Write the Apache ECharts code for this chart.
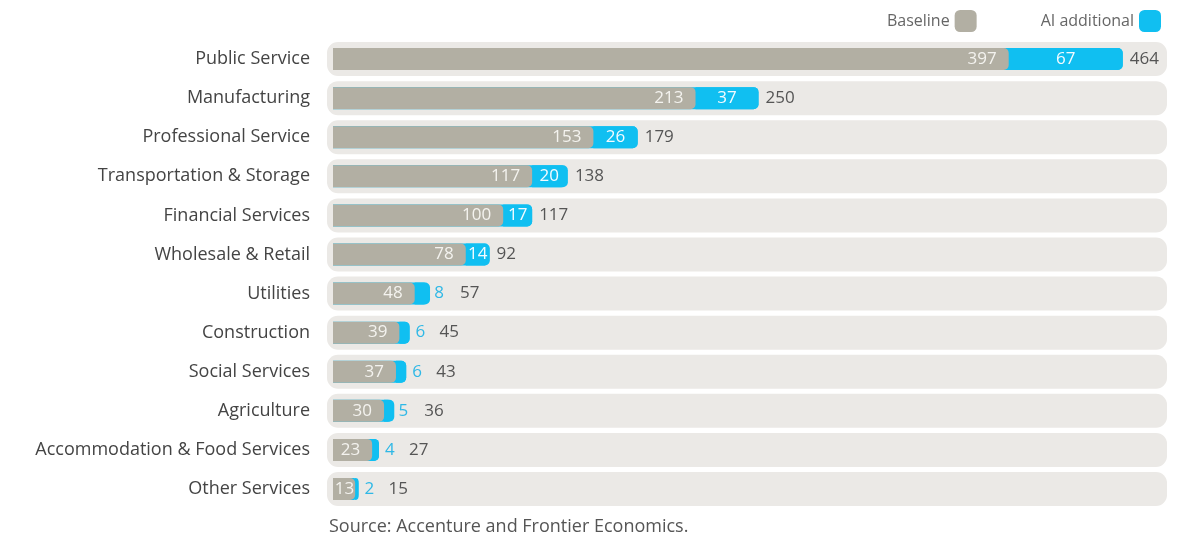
<!DOCTYPE html>
<html>
<head>
<meta charset="utf-8">
<script src="https://cdn.jsdelivr.net/npm/echarts@6/dist/echarts.min.js"></script>
<style>
  html, body { margin: 0; padding: 0; background: #fff; }
  #main { width: 1179px; height: 537px; }
</style>
</head>
<body>
<div id="main"></div>
<script>
  // data
  var categories = ['Public Service', 'Manufacturing', 'Professional Service', 'Transportation & Storage',
    'Financial Services', 'Wholesale & Retail', 'Utilities', 'Construction', 'Social Services',
    'Agriculture', 'Accommodation & Food Services', 'Other Services'];
  var baseline = [397, 213, 153, 117, 100, 78, 48, 39, 37, 30, 23, 13];
  var aiAdditional = [67, 37, 26, 20, 17, 14, 8, 6, 6, 5, 4, 2];
  var totals = [464, 250, 179, 138, 117, 92, 57, 45, 43, 36, 27, 15];

  var GRAY = '#b2afa3';
  var BLUE = '#10bff1';
  var FONT = 'Open Sans';

  var myChart = echarts.init(document.getElementById('main'));

  // small additions get their label outside the bar, in blue
  var aiData = aiAdditional.map(function (v) {
    if (v < 10) {
      return { value: v, label: { position: 'right', color: '#2fb8e6', distance: 6 } };
    }
    return v;
  });
  var baseData = baseline.map(function (v) {
    return { value: v, label: { distance: v < 20 ? 1 : 12 } };
  });
  var totalData = totals.map(function (v, i) {
    return { value: v, label: { distance: aiAdditional[i] < 10 ? 30 : 7 } };
  });

  var option = {
    animation: false,
    legend: {
      data: ['Baseline', 'AI additional'],
      right: 13,
      top: 5,
      align: 'right',
      itemWidth: 22,
      itemHeight: 22,
      itemGap: 64,
      icon: 'roundRect',
      textStyle: { color: '#666', fontSize: 16, fontFamily: FONT }
    },
    grid: [
      { left: 333, right: 12, top: 39.5, bottom: 28.5 },
      { left: 327, right: 12, top: 39.5, bottom: 28.5 }
    ],
    xAxis: [
      { type: 'value', gridIndex: 0, min: 0, max: 490, show: false },
      { type: 'value', gridIndex: 1, min: 0, max: 1, show: false }
    ],
    yAxis: [
      {
        type: 'category', gridIndex: 0, data: categories, inverse: true,
        axisLine: { show: false }, axisTick: { show: false },
        axisLabel: { color: '#444', fontSize: 18, fontFamily: FONT, margin: 23 }
      },
      {
        type: 'category', gridIndex: 1, data: categories, inverse: true, show: false
      }
    ],
    graphic: [{
      type: 'text', left: 329, top: 518,
      style: { text: 'Source: Accenture and Frontier Economics.', fill: '#555', fontSize: 18, fontFamily: FONT }
    }],
    series: [
      {
        name: 'track', type: 'bar', xAxisIndex: 1, yAxisIndex: 1,
        data: categories.map(function () { return 1; }),
        barWidth: 34, silent: true, z: 0,
        itemStyle: { color: '#ebe9e6', borderRadius: 11 }
      },
      {
        name: 'Total', type: 'bar', xAxisIndex: 0, yAxisIndex: 0,
        data: totalData, barWidth: 22, barGap: '-100%', z: 1,
        itemStyle: { color: BLUE, borderRadius: [0, 5, 5, 0] },
        label: { show: true, position: 'right', color: '#555', fontSize: 17, fontFamily: FONT }
      },
      {
        name: 'Baseline', type: 'bar', stack: 'parts', xAxisIndex: 0, yAxisIndex: 0,
        data: baseData, barWidth: 22, z: 2,
        itemStyle: { color: GRAY, borderRadius: [0, 5, 5, 0] },
        label: { show: true, position: 'insideRight', color: '#f4f3ef', fontSize: 17, fontFamily: FONT }
      },
      {
        name: 'AI additional', type: 'bar', stack: 'parts', xAxisIndex: 0, yAxisIndex: 0,
        data: aiData, barWidth: 22, z: 1,
        itemStyle: { color: BLUE, borderRadius: [0, 5, 5, 0] },
        label: { show: true, position: 'inside', color: '#f4fbff', fontSize: 17, fontFamily: FONT }
      }
    ]
  };
  myChart.setOption(option);
</script>
</body>
</html>
